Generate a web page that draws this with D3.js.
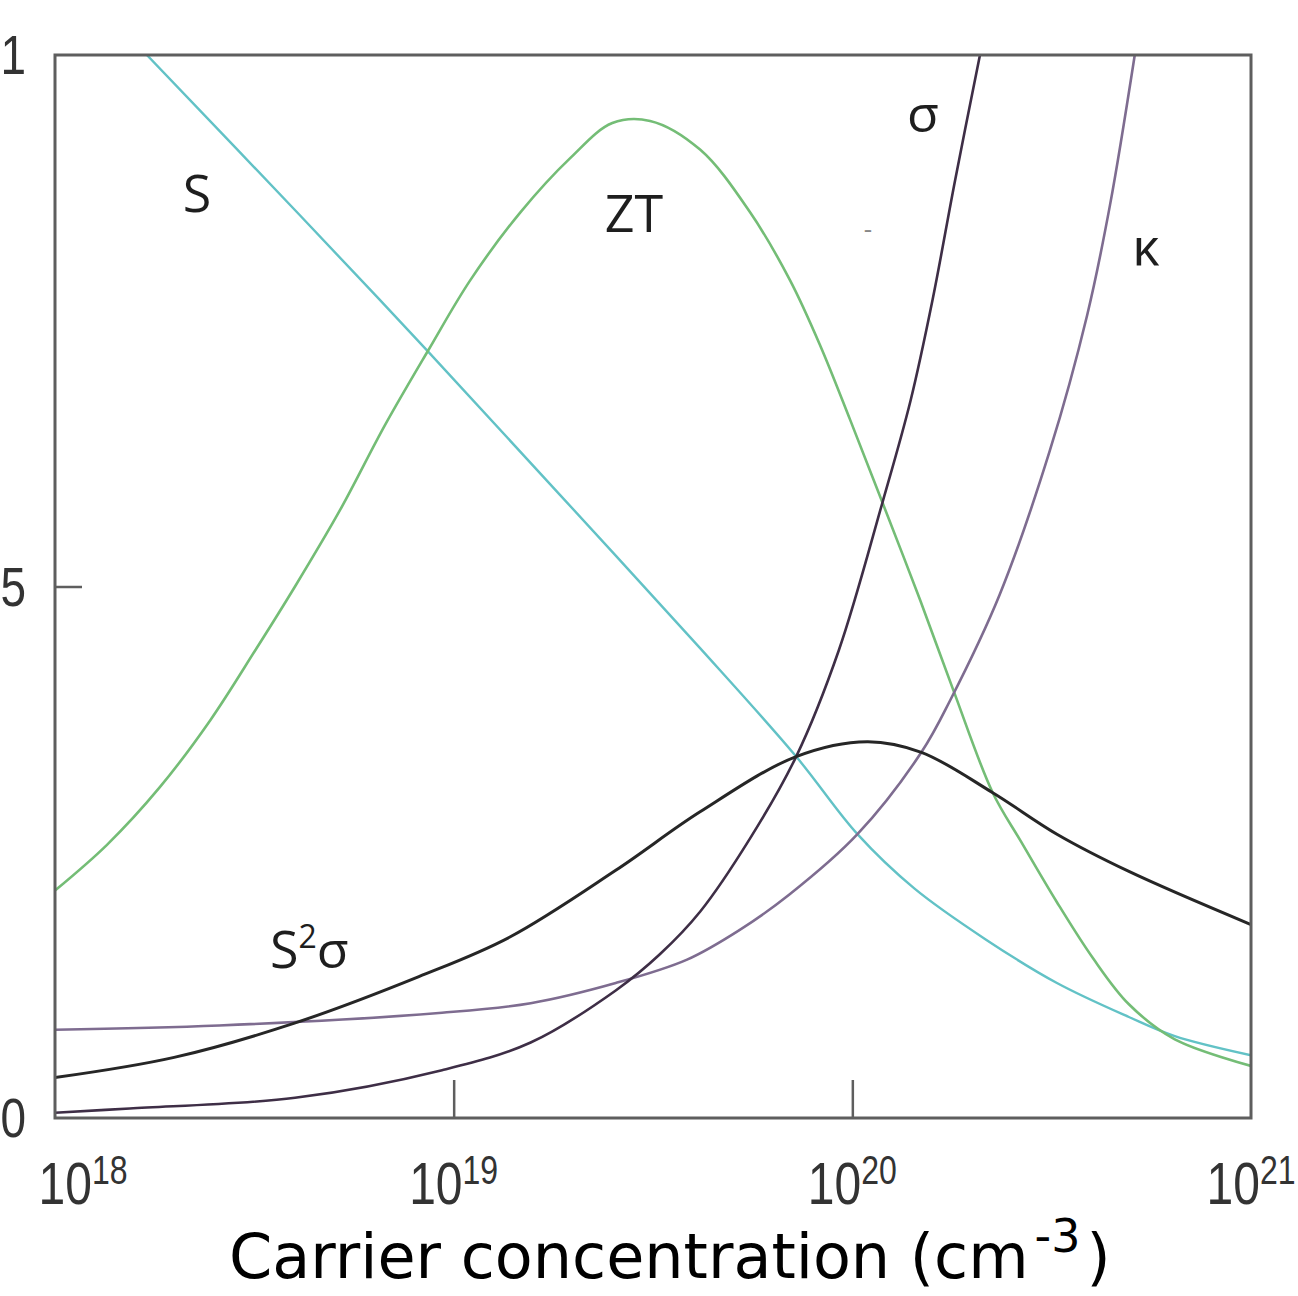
<!DOCTYPE html>
<html>
<head>
<meta charset="utf-8">
<script src="https://cdn.jsdelivr.net/npm/d3@7"></script>
<style>
  html, body { margin: 0; padding: 0; background: #fff; }
  svg { display: block; }
</style>
</head>
<body>
<svg id="chart" width="1298" height="1296"></svg>
<script>
// Carrier concentration (cm^-3) sampled along each curve
const seebeckN = [1.70e18, 4.12e18, 8.63e18, 1.85e19, 4.15e19, 7.23e19, 1.03e20, 1.43e20, 2.16e20, 3.26e20, 4.94e20, 6.44e20, 1e21];
const seebeck  = [1.000, 0.849, 0.721, 0.586, 0.442, 0.340, 0.267, 0.216, 0.168, 0.127, 0.095, 0.077, 0.059];

const ztN = [1e18, 1.35e18, 1.83e18, 2.45e18, 3.18e18, 4.00e18, 5.19e18, 6.73e18, 8.63e18, 1.10e19, 1.47e19, 1.96e19, 2.50e19, 3.11e19, 4.15e19, 5.54e19, 6.98e19, 8.30e19, 9.87e19, 1.19e20, 1.48e20, 1.79e20, 2.25e20, 2.65e20, 3.26e20, 4.02e20, 4.94e20, 6.44e20, 1e21];
const zt  = [0.214, 0.257, 0.311, 0.374, 0.440, 0.500, 0.572, 0.652, 0.722, 0.788, 0.852, 0.903, 0.936, 0.938, 0.911, 0.852, 0.788, 0.727, 0.657, 0.579, 0.487, 0.403, 0.306, 0.260, 0.203, 0.150, 0.107, 0.074, 0.049];

const powerN = [1e18, 1.99e18, 3.97e18, 8.18e18, 1.38e19, 2.55e19, 4.15e19, 7.23e19, 1.09e20, 1.49e20, 2.25e20, 3.26e20, 4.94e20, 1e21];
const power  = [0.038, 0.057, 0.089, 0.133, 0.170, 0.233, 0.288, 0.340, 0.354, 0.344, 0.306, 0.267, 0.232, 0.182];

const sigmaN = [1e18, 1.54e18, 4.00e18, 9.35e18, 1.56e19, 2.55e19, 3.29e19, 4.15e19, 5.54e19, 7.23e19, 9.25e19, 1.19e20, 1.40e20, 1.59e20, 1.81e20, 2.09e20];
const sigma  = [0.005, 0.009, 0.019, 0.045, 0.071, 0.120, 0.154, 0.194, 0.263, 0.340, 0.440, 0.579, 0.675, 0.770, 0.882, 1.000];

const kappaN = [1e18, 2.58e18, 9.35e18, 1.56e19, 2.55e19, 3.85e19, 5.22e19, 6.94e19, 1.03e20, 1.49e20, 1.76e20, 2.34e20, 3.13e20, 3.88e20, 4.43e20, 5.11e20];
const kappa  = [0.083, 0.087, 0.099, 0.108, 0.127, 0.149, 0.177, 0.210, 0.267, 0.344, 0.393, 0.492, 0.628, 0.755, 0.859, 1.000];

// Axis ticks
const xTickExps = [18, 19, 20, 21];
const yTicks = [0, 0.5, 1];
const yTickLabels = ["0", "0.5", "1"];

const svg = d3.select("#chart");
const plotL = 55, plotT = 55, plotR = 1251, plotB = 1118;

const x = d3.scaleLog().domain([1e18, 1e21]).range([plotL, plotR]);
const y = d3.scaleLinear().domain([0, 1]).range([plotB, plotT]);

svg.append("defs").append("clipPath").attr("id", "plot")
  .append("rect").attr("x", plotL).attr("y", plotT)
  .attr("width", plotR - plotL).attr("height", plotB - plotT);

const series = [
  { n: seebeckN, v: seebeck, color: "#62c2c6", w: 2.4 },
  { n: ztN,      v: zt,      color: "#74bd76", w: 2.6 },
  { n: kappaN,   v: kappa,   color: "#7e6c90", w: 2.6 },
  { n: sigmaN,   v: sigma,   color: "#3e2e46", w: 2.6 },
  { n: powerN,   v: power,   color: "#262626", w: 3.0 }
];

const line = d3.line()
  .x(d => x(d[0]))
  .y(d => y(d[1]))
  .curve(d3.curveCatmullRom.alpha(0.5));

const curves = svg.append("g").attr("clip-path", "url(#plot)");
series.forEach(s => {
  curves.append("path")
    .datum(s.n.map((n, i) => [n, s.v[i]]))
    .attr("d", line)
    .attr("fill", "none")
    .attr("stroke", s.color)
    .attr("stroke-width", s.w)
    .attr("stroke-linejoin", "round");
});

// Frame with inward ticks
svg.append("rect")
  .attr("x", plotL).attr("y", plotT)
  .attr("width", plotR - plotL).attr("height", plotB - plotT)
  .attr("fill", "none").attr("stroke", "#5e5e5e").attr("stroke-width", 3);

const xAxis = d3.axisBottom(x)
  .tickValues([1e19, 1e20])
  .tickSizeInner(-38).tickSizeOuter(0)
  .tickFormat("");
svg.append("g").attr("transform", `translate(0,${plotB})`).call(xAxis)
  .call(g => g.select(".domain").remove())
  .call(g => g.selectAll(".tick line").attr("stroke", "#5e5e5e").attr("stroke-width", 2.5));

const yAxis = d3.axisLeft(y)
  .tickValues([0.5])
  .tickSizeInner(-27).tickSizeOuter(0)
  .tickFormat("");
svg.append("g").attr("transform", `translate(${plotL},0)`).call(yAxis)
  .call(g => g.select(".domain").remove())
  .call(g => g.selectAll(".tick line").attr("stroke", "#5e5e5e").attr("stroke-width", 2.5));

// Y tick labels (right-aligned against the page's left edge)
svg.append("g").selectAll("text").data(yTicks).join("text")
  .attr("transform", d => `translate(26,${y(d) + 19}) scale(0.82,1)`)
  .attr("text-anchor", "end")
  .attr("font-family", "'Liberation Sans', Arial, sans-serif")
  .attr("font-size", 56)
  .attr("fill", "#333")
  .text((d, i) => yTickLabels[i]);

// X tick labels: 10 with superscript exponent
const xl = svg.append("g");
xTickExps.forEach((e, i) => {
  const cx = x(Math.pow(10, e)) + (i === 0 ? 28 : 0);
  const t = xl.append("text")
    .attr("transform", `translate(${cx},1204) scale(0.8,1)`)
    .attr("text-anchor", "middle")
    .attr("font-family", "'Liberation Sans', Arial, sans-serif")
    .attr("font-size", 60)
    .attr("fill", "#333");
  t.append("tspan").text("10");
  t.append("tspan").attr("font-size", 40).attr("dy", -20).text(String(e));
});

// Axis title
const title = svg.append("text")
  .attr("x", 229).attr("y", 1278)
  .attr("font-family", "'DejaVu Sans', Verdana, sans-serif")
  .attr("font-size", 62)
  .attr("fill", "#000");
title.append("tspan").text("Carrier concentration (cm");
title.append("tspan").attr("font-size", 46).attr("dx", 6).attr("dy", -26).text("-3");
title.append("tspan").attr("dx", 6).attr("dy", 26).text(")");

// Curve labels
const labelFont = "'Open Sans', 'Noto Sans', sans-serif";
const labels = [
  { t: "S",  x: 197,  y: 212, a: "middle" },
  { t: "ZT", x: 634,  y: 232, a: "middle" },
  { t: "σ",  x: 923,  y: 132, a: "middle" },
  { t: "κ",  x: 1146, y: 265, a: "middle" }
];
svg.append("g").selectAll("text").data(labels).join("text")
  .attr("x", d => d.x).attr("y", d => d.y)
  .attr("text-anchor", d => d.a)
  .attr("font-family", labelFont)
  .attr("font-size", 52)
  .attr("fill", "#1e1e1e")
  .text(d => d.t);

const p = svg.append("text")
  .attr("x", 270).attr("y", 968)
  .attr("font-family", labelFont)
  .attr("font-size", 52)
  .attr("fill", "#1e1e1e");
p.append("tspan").text("S");
p.append("tspan").attr("font-size", 32).attr("dy", -20).text("2");
p.append("tspan").attr("dy", 20).text("σ");

// Small stray mark near the top
svg.append("text")
  .attr("x", 868).attr("y", 238)
  .attr("text-anchor", "middle")
  .attr("font-family", labelFont)
  .attr("font-size", 26)
  .attr("fill", "#888")
  .text("-");
</script>
</body>
</html>
